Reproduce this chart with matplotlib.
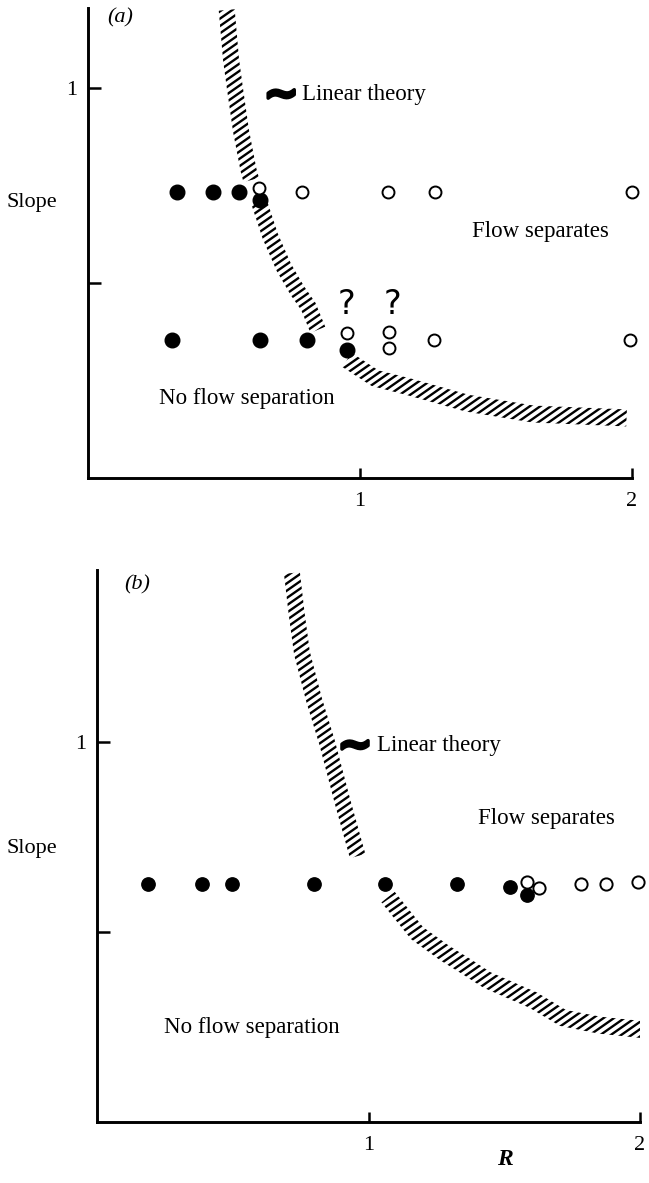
import numpy as np
import matplotlib
matplotlib.use("Agg")
import matplotlib.pyplot as plt
from matplotlib.patches import Polygon
from matplotlib.collections import LineCollection
import matplotlib.patheffects as pe

plt.rcParams['font.family'] = ['Liberation Serif', 'DejaVu Serif']

# ---------------- data: panel (a) ----------------
a_filled_R = [0.327, 0.46, 0.555, 0.632, 0.31, 0.632, 0.805, 0.952]
a_filled_s = [0.733, 0.733, 0.733, 0.713, 0.354, 0.354, 0.354, 0.328]
a_open_R = [0.629, 0.787, 1.103, 1.276, 2.0, 0.952, 1.107, 1.107, 1.272, 1.993]
a_open_s = [0.744, 0.733, 0.733, 0.733, 0.733, 0.372, 0.374, 0.333, 0.354, 0.354]
a_query_R = [0.952, 1.118]
a_query_s = [0.444, 0.444]

# linear-theory band centre line, three visible pieces
a_band1_R = [0.51, 0.526, 0.54, 0.5625, 0.59, 0.60]
a_band1_s = [1.20, 1.072, 1.00, 0.89, 0.79, 0.764]
a_band2_R = [0.63, 0.67, 0.72, 0.77, 0.81, 0.845]
a_band2_s = [0.705, 0.62, 0.54, 0.48, 0.44, 0.38]
a_band3_R = [0.952, 1.055, 1.184, 1.393, 1.636, 1.98]
a_band3_s = [0.303, 0.256, 0.233, 0.192, 0.164, 0.154]

# ---------------- data: panel (b) ----------------
b_filled_R = [0.188, 0.387, 0.497, 0.80, 1.061, 1.326, 1.521, 1.584]
b_filled_s = [0.626, 0.626, 0.626, 0.626, 0.626, 0.626, 0.618, 0.597]
b_open_R = [1.584, 1.628, 1.783, 1.875, 1.993]
b_open_s = [0.632, 0.616, 0.626, 0.626, 0.632]

b_band1_R = [0.718, 0.735, 0.755, 0.80, 0.847, 0.906, 0.96]
b_band1_s = [1.445, 1.34, 1.234, 1.11, 1.00, 0.839, 0.70]
b_band2_R = [1.072, 1.179, 1.28, 1.363, 1.436, 1.606, 1.716, 1.85, 2.026]
b_band2_s = [0.592, 0.497, 0.445, 0.408, 0.374, 0.321, 0.274, 0.255, 0.242]

xticks = [1, 2]
xticklabels = ['1', '2']
yticks = [1]
yticklabels = ['1']
yminor = [0.5]

W, H = 649, 1183
fig = plt.figure(figsize=(W / 100, H / 100), dpi=100)


def px_axes(l, r, t, b):
    return fig.add_axes([l / W, 1 - b / H, (r - l) / W, (b - t) / H])


axA = px_axes(88, 632, 8, 478)
axB = px_axes(97, 640, 570, 1122)
axA.set_xlim(0, 2); axA.set_ylim(0, 1.205)
axB.set_xlim(0, 2); axB.set_ylim(0, 1.453)

for ax in (axA, axB):
    for sp in ('top', 'right'):
        ax.spines[sp].set_visible(False)
    for sp in ('left', 'bottom'):
        ax.spines[sp].set_linewidth(2.1)
    ax.set_xticks(xticks)
    ax.set_xticklabels(xticklabels)
    ax.set_yticks(yticks)
    ax.set_yticklabels(yticklabels)
    ax.set_yticks(yminor, minor=True)
    ax.tick_params(axis='y', which='both', direction='in', length=9, width=1.8,
                   labelsize=16, pad=8)
    ax.tick_params(axis='x', which='both', direction='in', length=7, width=1.8,
                   labelsize=16, pad=10)
    ax.set_ylabel('Slope', rotation=0, fontsize=16, va='center', ha='center')


axA.yaxis.set_label_coords(-0.103, 0.587)
axB.yaxis.set_label_coords(-0.12, 0.496)
axB.set_xlabel('R', fontsize=17, fontstyle='italic', fontweight='bold', va='center')
axB.xaxis.set_label_coords(0.751, -0.068)


def band(ax, R, s, half=8.0, angle=35.0, spacing=6.0, lw=1.7):
    pts = ax.transData.transform(np.column_stack([R, s]))
    d = np.gradient(pts, axis=0)
    d /= np.linalg.norm(d, axis=1)[:, None]
    n = np.column_stack([-d[:, 1], d[:, 0]])
    poly_px = np.vstack([pts + n * half, (pts - n * half)[::-1]])
    poly = ax.transData.inverted().transform(poly_px)
    clip = Polygon(poly, closed=True, facecolor='none', edgecolor='none', linewidth=0)
    ax.add_patch(clip)
    # parallel strokes at a fixed angle, clipped to the band
    x0, y0 = poly_px.min(axis=0) - 30
    x1, y1 = poly_px.max(axis=0) + 30
    t = np.tan(np.radians(angle))
    step = spacing / np.cos(np.radians(angle))
    cs = np.arange(y0 - t * x1, y1 - t * x0, step)
    segs = []
    for c in cs:
        p = np.array([[x0, t * x0 + c], [x1, t * x1 + c]])
        segs.append(ax.transData.inverted().transform(p))
    lc = LineCollection(segs, colors='black', linewidths=lw, zorder=1, capstyle='butt')
    ax.add_collection(lc)
    lc.set_clip_path(clip)


band(axA, a_band1_R, a_band1_s)
band(axA, a_band2_R, a_band2_s)
band(axA, a_band3_R, a_band3_s, half=8.5)
band(axB, b_band1_R, b_band1_s, half=8.0)
band(axB, b_band2_R, b_band2_s, half=8.5)

axA.plot(a_filled_R, a_filled_s, 'o', color='black', ms=10.5, ls='none', zorder=3, clip_on=False)
axA.plot(a_open_R, a_open_s, 'o', mfc='white', mec='black', mew=1.4, ms=8.6, ls='none',
         zorder=4, clip_on=False)
axB.plot(b_filled_R, b_filled_s, 'o', color='black', ms=9.6, ls='none', zorder=3, clip_on=False)
axB.plot(b_open_R, b_open_s, 'o', mfc='white', mec='black', mew=1.4, ms=8.8, ls='none',
         zorder=4, clip_on=False)

for r, s in zip(a_query_R, a_query_s):
    axA.text(r, s, '?', fontsize=24, family='DejaVu Sans', ha='center', va='center')

# annotations
axA.text(0.118, 1.18, '(a)', fontsize=16, fontstyle='italic', ha='center', va='center')
axB.text(0.147, 1.413, '(b)', fontsize=16, fontstyle='italic', ha='center', va='center')

for ax, gx, gy, tx in ((axA, 0.71, 0.982, 0.787), (axB, 0.95, 0.99, 1.031)):
    ax.text(gx, gy, '~', fontsize=30, family='DejaVu Sans', fontweight='bold',
            ha='center', va='center',
            path_effects=[pe.withStroke(linewidth=2.5, foreground='black')])
    ax.text(tx, gy, 'Linear theory', fontsize=16.5, ha='left', va='center')

axA.text(1.665, 0.633, 'Flow separates', fontsize=16.5, ha='center', va='center')
axA.text(0.585, 0.205, 'No flow separation', fontsize=16.5, ha='center', va='center')
axB.text(1.654, 0.80, 'Flow separates', fontsize=16.5, ha='center', va='center')
axB.text(0.571, 0.25, 'No flow separation', fontsize=16.5, ha='center', va='center')

fig.savefig('out.png', dpi=100)
